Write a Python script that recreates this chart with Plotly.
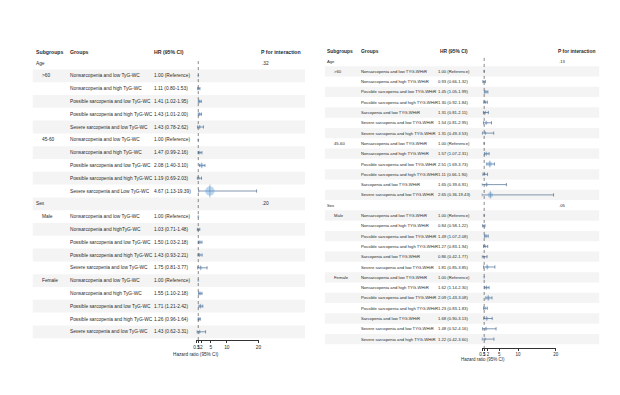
import plotly.graph_objects as go

W, H = 620, 395

# ---------------- Left panel: TyG-WC ----------------
wc_sections = ["Age", "Sex"]
wc_pvalues = [".32", ".20"]
wc_subgroups = [[">60", "45-60"], ["Male", "Female"]]
wc_groups = [
    ["Nonsarcopenia and low TyG-WC", "Nonsarcopenia and high TyG-WC",
     "Possible sarcopenia and low TyG-WC", "Possible sarcopenia and high TyG-WC",
     "Severe sarcopenia and low TyG-WC"],
    ["Nonsarcopenia and low TyG-WC", "Nonsarcopenia and high TyG-WC",
     "Possible sarcopenia and low TyG-WC", "Possible sarcopenia and high TyG-WC",
     "Severe sarcopenia and Low TyG-WC"],
    ["Nonsarcopenia and low TyG-WC", "Nonsarcopenia and highTyG-WC",
     "Possible sarcopenia and low TyG-WC", "Possible sarcopenia and high TyG-WC",
     "Severe sarcopenia and low TyG-WC"],
    ["Nonsarcopenia and low TyG-WC", "Nonsarcopenia and high TyG-WC",
     "Possible sarcopenia and low TyG-WC", "Possible sarcopenia and high TyG-WC",
     "Severe sarcopenia and low TyG-WC"],
]
wc_hr = [[1.00, 1.11, 1.41, 1.43, 1.43],
         [1.00, 1.47, 2.08, 1.19, 4.67],
         [1.00, 1.03, 1.50, 1.43, 1.75],
         [1.00, 1.55, 1.71, 1.26, 1.43]]
wc_lo = [[None, 0.80, 1.02, 1.01, 0.78],
         [None, 0.99, 1.40, 0.69, 1.13],
         [None, 0.71, 1.03, 0.93, 0.81],
         [None, 1.10, 1.21, 0.96, 0.62]]
wc_hi = [[None, 1.53, 1.95, 2.00, 2.62],
         [None, 2.16, 3.10, 2.03, 19.39],
         [None, 1.48, 2.18, 2.21, 3.77],
         [None, 2.18, 2.42, 1.64, 3.31]]

# ---------------- Right panel: TYG-WHtR ----------------
wh_sections = ["Age", "Sex"]
wh_pvalues = [".13", ".05"]
wh_subgroups = [[">60", "45-60"], ["Male", "Female"]]
wh_groups = [
    ["Nonsarcopenia and low TYG-WHtR", "Nonsarcopenia and high TYG-WHtR",
     "Possible sarcopenia and low TYG-WHtR", "Possible sarcopenia and high TYG-WHtR",
     "Sarcopenia and low TYG-WHtR", "Severe sarcopenia and low TYG-WHtR",
     "Severe sarcopenia and high TYG-WHtR"],
    ["Nonsarcopenia and low TYG-WHtR", "Nonsarcopenia and high TYG-WHtR",
     "Possible sarcopenia and low TYG-WHtR", "Possible sarcopenia and high TYG-WHtR",
     "Sarcopenia and low TYG-WHtR", "Severe sarcopenia and low TYG-WHtR"],
    ["Nonsarcopenia and low TYG-WHtR", "Nonsarcopenia and high TYG-WHtR",
     "Possible sarcopenia and low TYG-WHtR", "Possible sarcopenia and high TYG-WHtR",
     "Sarcopenia and low TYG-WHtR", "Severe sarcopenia and low TYG-WHtR"],
    ["Nonsarcopenia and low TYG-WHtR", "Nonsarcopenia and high TYG-WHtR",
     "Possible sarcopenia and low TYG-WHtR", "Possible sarcopenia and high TYG-WHtR",
     "Sarcopenia and low TYG-WHtR", "Severe sarcopenia and low TYG-WHtR",
     "Severe sarcopenia and high TYG-WHtR"],
]
wh_hr = [[1.00, 0.93, 1.45, 1.30, 1.31, 1.54, 1.31],
         [1.00, 1.57, 2.51, 1.11, 1.65, 2.65],
         [1.00, 0.84, 1.49, 1.27, 0.86, 1.81],
         [1.00, 1.62, 2.09, 1.23, 1.68, 1.48, 1.22]]
wh_lo = [[None, 0.66, 1.05, 0.92, 0.81, 0.81, 0.49],
         [None, 1.07, 1.69, 0.66, 0.39, 0.36],
         [None, 0.58, 1.07, 0.83, 0.42, 0.85],
         [None, 1.14, 1.43, 0.83, 0.90, 0.52, 0.42]]
wh_hi = [[None, 1.32, 1.99, 1.84, 2.11, 2.95, 3.53],
         [None, 2.31, 3.73, 1.90, 6.91, 19.43],
         [None, 1.22, 2.08, 1.94, 1.77, 3.85],
         [None, 2.30, 3.08, 1.83, 3.13, 4.16, 3.60]]

tick_vals = [0.5, 1, 2, 5, 10, 20]
tick_text = ["0.5", "1", "2", "5", "10", "20"]
x_label = "Hazard ratio (95% CI)"
headers = ["Subgroups", "Groups", "HR (95% CI)", "P for interaction"]

FONT = "Liberation Sans, Arial, sans-serif"
TXT = "#2a2a2a"
CI_COLOR = "#4f6d8f"
PT_COLOR = "rgba(90,160,225,0.6)"
BAND = "#f4f4f4"

fig = go.Figure()
annotations = []
shapes = []


def txt(s, xpx, y, yref, size, bold=False, anchor="left"):
    annotations.append(dict(
        x=xpx / W, xref="paper", y=y, yref=yref,
        text=f"<b>{s}</b>" if bold else s, showarrow=False,
        xanchor=anchor, yanchor="middle", borderpad=0, borderwidth=0,
        font=dict(family=FONT, size=size, color=TXT)))


def band(cfg, yref, row):
    if row % 2 == 1:
        shapes.append(dict(type="rect", xref="paper", yref=yref,
                           x0=cfg["band"][0] / W, x1=cfg["band"][1] / W,
                           y0=-row - 0.5, y1=-row + 0.5,
                           fillcolor=BAND, line=dict(width=0), layer="below"))


def add_panel(sections, pvals, subgroups, groups, hr, lo, hi, cfg, xa, ya):
    yref = ya
    row = 0
    pts_x, pts_y, pts_s = [], [], []
    ci_x, ci_y, ci_p, ci_m = [], [], [], []
    gi = 0
    for s, sec in enumerate(sections):
        band(cfg, yref, row)
        txt(sec, cfg["x_sec"], -row, yref, cfg["fs"])
        txt(pvals[s], cfg["x_p"], -row, yref, cfg["fs"])
        row += 1
        for sub in subgroups[s]:
            for k, g in enumerate(groups[gi]):
                band(cfg, yref, row)
                if k == 0:
                    txt(sub, cfg["x_sub"], -row, yref, cfg["fs"])
                txt(g, cfg["x_grp"], -row, yref, cfg["fs"])
                h, l, u = hr[gi][k], lo[gi][k], hi[gi][k]
                if l is None:
                    label = f"{h:.2f} (Reference)"
                else:
                    label = f"{h:.2f} ({l:.2f}-{u:.2f})"
                    ci_x.append(h)
                    ci_y.append(-row)
                    ci_p.append(u - h)
                    ci_m.append(h - l)
                txt(label, cfg["x_hr"], -row, yref, cfg["fs"])
                pts_x.append(h)
                pts_y.append(-row)
                pts_s.append(2.0 * h)
                row += 1
            gi += 1
    # headers
    for name, xp in zip(headers, cfg["hdr_x"]):
        annotations.append(dict(
            x=xp / W, xref="paper", y=1 - cfg["hdr_y"] / H, yref="paper",
            text=f"<b>{name}</b>", showarrow=False, xanchor="left", yanchor="middle",
            borderpad=0, borderwidth=0,
            font=dict(family=FONT, size=cfg["fs_hdr"], color=TXT)))
    annotations.append(dict(
        x=cfg["xlab_x"] / W, xref="paper", y=1 - cfg["xlab_y"] / H, yref="paper",
        text=x_label, showarrow=False, xanchor="center", yanchor="middle",
        borderpad=0, borderwidth=0,
        font=dict(family=FONT, size=cfg["fs_xlab"], color=TXT)))
    # reference line
    shapes.append(dict(type="line", xref=xa, yref=yref, x0=1, x1=1,
                       y0=cfg["ref_top"], y1=cfg["yrange"][0],
                       line=dict(color="#555555", width=0.7, dash="dot")))
    fig.add_trace(go.Scatter(
        x=ci_x, y=ci_y, mode="markers", xaxis=xa, yaxis=ya,
        marker=dict(size=1, color=CI_COLOR, opacity=0),
        error_x=dict(type="data", symmetric=False, array=ci_p, arrayminus=ci_m,
                     color=CI_COLOR, thickness=0.7, width=1.6),
        hoverinfo="skip", showlegend=False))
    fig.add_trace(go.Scatter(
        x=pts_x, y=pts_y, mode="markers", xaxis=xa, yaxis=ya,
        marker=dict(size=pts_s, color=PT_COLOR, line=dict(width=0)),
        showlegend=False, cliponaxis=False))
    fig.add_trace(go.Scatter(
        x=pts_x, y=pts_y, mode="markers", xaxis=xa, yaxis=ya,
        marker=dict(size=pts_s, symbol="line-ns",
                    line=dict(width=0.6, color=CI_COLOR)),
        hoverinfo="skip", showlegend=False, cliponaxis=False))


left_cfg = dict(band=(30, 305), x_sec=33, x_sub=39, x_grp=68, x_hr=152, x_p=262,
                fs=4.8, fs_hdr=5.2, fs_xlab=4.7, hdr_x=(33, 68, 152, 261), hdr_y=52,
                xlab_x=195, xlab_y=354, ref_top=0.15,
                yrange=(-21.64, 4.922))
right_cfg = dict(band=(325, 602), x_sec=327, x_sub=334, x_grp=361, x_hr=439, x_p=561,
                 fs=4.2, fs_hdr=4.9, fs_xlab=4.5, hdr_x=(327, 361, 441, 560), hdr_y=51,
                 xlab_x=485, xlab_y=359, ref_top=0.3,
                 yrange=(-27.864, 5.922))

add_panel(wc_sections, wc_pvalues, wc_subgroups, wc_groups, wc_hr, wc_lo, wc_hi,
          left_cfg, "x", "y")
add_panel(wh_sections, wh_pvalues, wh_subgroups, wh_groups, wh_hr, wh_lo, wh_hi,
          right_cfg, "x2", "y2")

axis_common = dict(range=[0.35, 20], tickmode="array", tickvals=tick_vals, ticktext=tick_text,
                   ticks="outside", ticklen=2, tickwidth=0.6, tickcolor="#333333",
                   showline=True, linecolor="#333333", linewidth=0.7, showgrid=False,
                   zeroline=False, tickangle=0, fixedrange=True)

fig.update_layout(
    width=W, height=H, margin=dict(l=0, r=0, t=0, b=0),
    paper_bgcolor="white", plot_bgcolor="rgba(0,0,0,0)",
    font=dict(family=FONT, color=TXT),
    xaxis=dict(axis_common, domain=[195.1 / W, 258 / W], anchor="y",
               tickfont=dict(size=4.8, family=FONT, color=TXT)),
    yaxis=dict(domain=[55 / H, 1], range=list(left_cfg["yrange"]), visible=False,
               fixedrange=True, anchor="x"),
    xaxis2=dict(axis_common, domain=[483.4 / W, 558.1 / W], anchor="y2",
                tickfont=dict(size=4.5, family=FONT, color=TXT)),
    yaxis2=dict(domain=[47 / H, 1], range=list(right_cfg["yrange"]), visible=False,
                fixedrange=True, anchor="x2"),
    annotations=annotations, shapes=shapes, showlegend=False,
)

fig.write_html("out.html")
